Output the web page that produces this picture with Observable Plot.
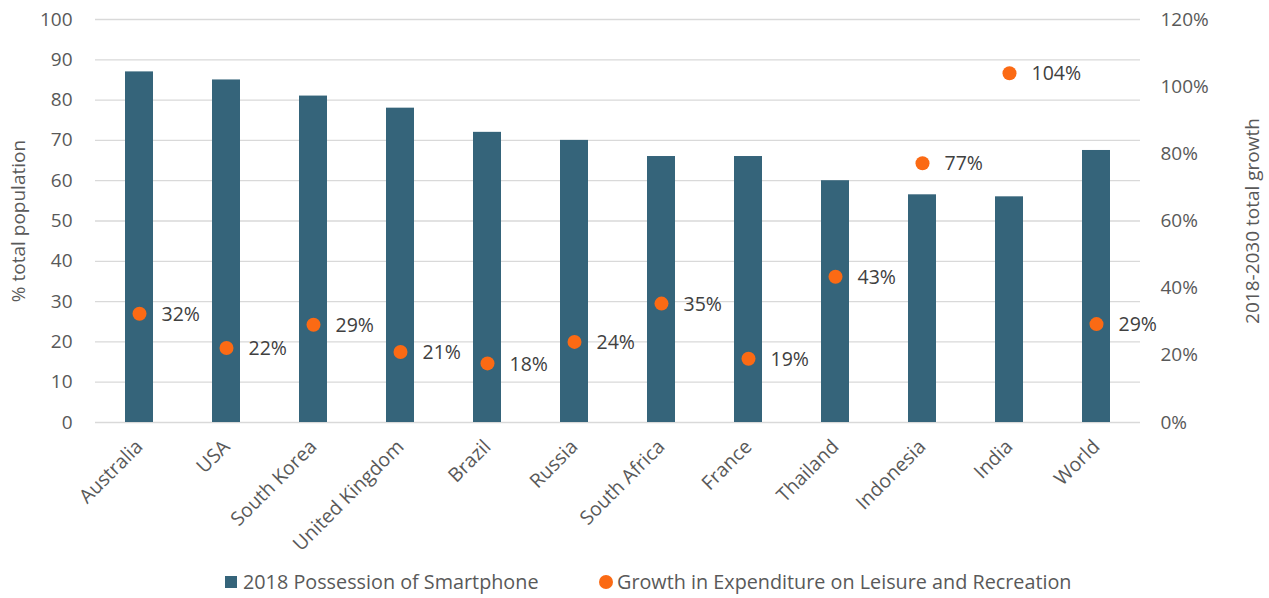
<!DOCTYPE html>
<html>
<head>
<meta charset="utf-8">
<script src="https://cdn.jsdelivr.net/npm/d3@7"></script>
<script src="https://cdn.jsdelivr.net/npm/@observablehq/plot@0.6"></script>
<style>
  body { margin: 0; background: #fff; font-family: "Open Sans", sans-serif; }
  #legend { height: 38px; font-size: 19.8px; color: #595959; position: relative; }
  .item { display: flex; align-items: center; position: absolute; top: 8px; }
  .sw { width: 12px; height: 12px; background: #35647a; margin-right: 6px; }
  .dot { width: 14px; height: 14px; border-radius: 50%; background: #fb6a14; margin-right: 4px; }
</style>
</head>
<body>
<div id="chart"></div>
<div id="legend">
  <div class="item" style="left:225px;"><div class="sw"></div>2018 Possession of Smartphone</div>
  <div class="item" style="left:599px;"><div class="dot"></div>Growth in Expenditure on Leisure and Recreation</div>
</div>
<script>
const countries = ["Australia","USA","South Korea","United Kingdom","Brazil","Russia","South Africa","France","Thailand","Indonesia","India","World"];
const smartphone = [87, 85, 81, 78, 72, 70, 66, 66, 60, 56.5, 56, 67.5];
const growth = [32.4, 22.2, 29.1, 21, 17.6, 24, 35.4, 19, 43.4, 77.2, 104, 29.3];
const leftTicks = [0,10,20,30,40,50,60,70,80,90,100];
const rightTicks = [0,20,40,60,80,100,120];

const ratio = 100 / 120;
const bars = countries.map((c, i) => ({country: c, value: smartphone[i]}));
const dots = countries.map((c, i) => ({country: c, growth: growth[i], y: growth[i] * ratio}));

const chart = Plot.plot({
  width: 1269,
  height: 560,
  marginTop: 19,
  marginBottom: 138,
  marginLeft: 95,
  marginRight: 129,
  style: {fontFamily: "'Open Sans', sans-serif", fontSize: "19px", color: "#595959", background: "#fff"},
  x: {domain: countries, paddingInner: 0.68, paddingOuter: 0.34, label: null},
  y: {domain: [0, 100], label: null},
  marks: [
    Plot.ruleY(leftTicks, {stroke: "#d9d9d9", strokeWidth: 1.3}),
    Plot.barY(bars, {x: "country", y: "value", fill: "#35647a"}),
    Plot.dot(dots, {x: "country", y: "y", r: 7, fill: "#fb6a14", stroke: null}),
    Plot.text(dots, {x: "country", y: "y", text: d => Math.round(d.growth) + "%", dx: 22, dy: 1, textAnchor: "start", fill: "#404040", fontSize: 19.5}),
    Plot.axisY(leftTicks, {anchor: "left", tickSize: 0, tickPadding: 23, fontSize: 19, label: "% total population", labelAnchor: "center", labelOffset: 84, labelArrow: "none"}),
    Plot.axisY(rightTicks.map(v => v * ratio), {anchor: "right", tickSize: 0, tickPadding: 20, fontSize: 19, tickFormat: d => Math.round(d / ratio) + "%", label: "2018-2030 total growth", labelAnchor: "center", labelOffset: 118, labelArrow: "none"}),
    Plot.axisX({tickSize: 0, tickPadding: 21, tickRotate: -45, fontSize: 19.5, label: null})
  ]
});
document.getElementById("chart").appendChild(chart);
</script>
</body>
</html>
